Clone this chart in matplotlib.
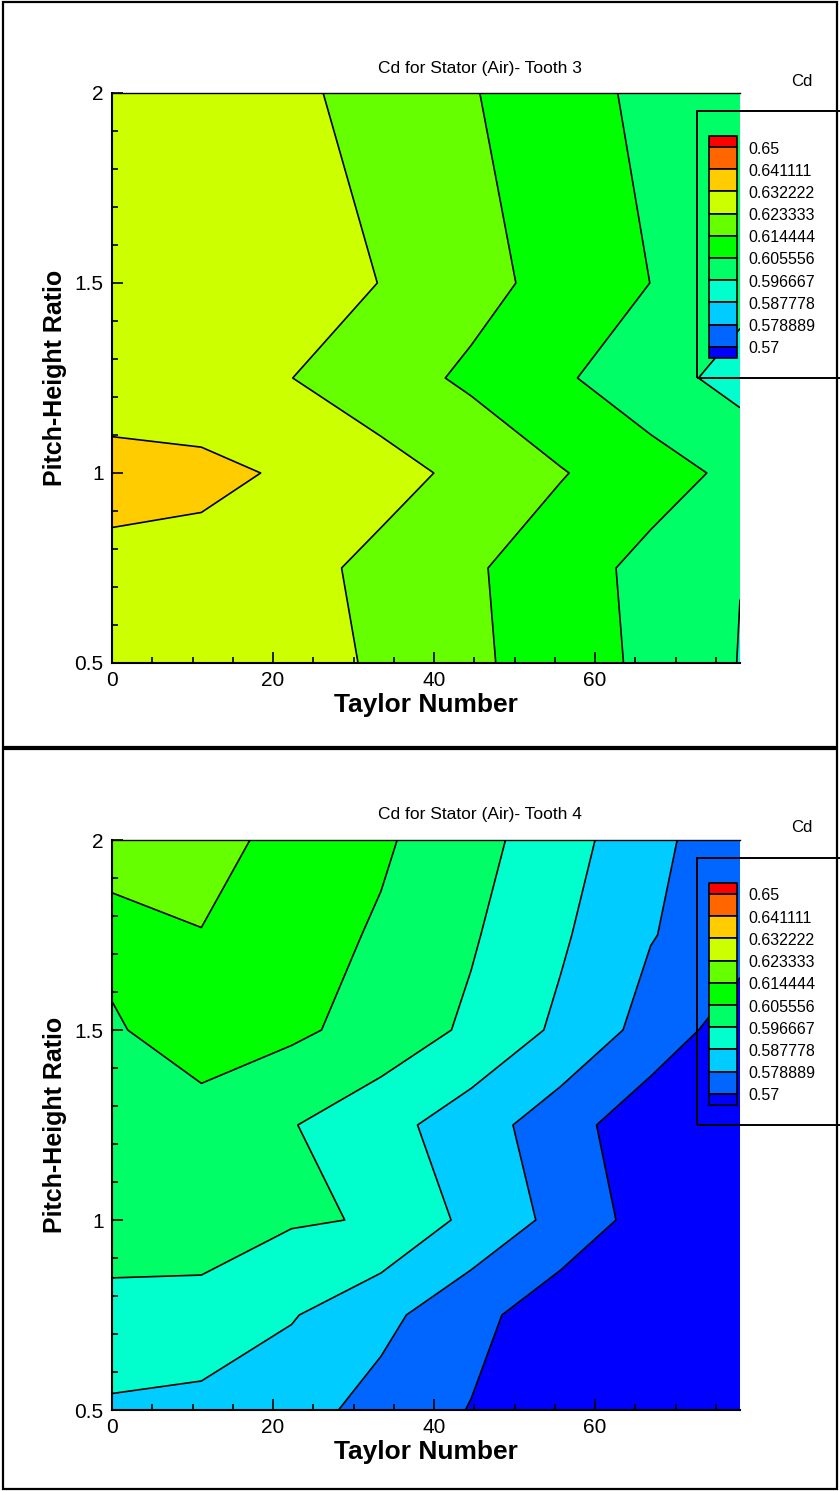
import matplotlib
matplotlib.use('Agg')
import matplotlib.pyplot as plt
from matplotlib.patches import Rectangle
from matplotlib.ticker import MultipleLocator

plt.rcParams['font.family'] = ['Liberation Sans', 'DejaVu Sans']

# ── 1. Data ──────────────────────────────────────────
TAYLOR = [0.0, 11.1, 22.3, 33.4, 44.6, 55.7, 66.9, 78.0]

PITCH_T3 = [0.5, 0.75, 1.0, 1.25, 1.5, 2.0]
CD_T3 = [
    [0.6295, 0.6290, 0.6275, 0.6219, 0.6161, 0.6101, 0.6036, 0.5964],
    [0.6312, 0.6300, 0.6263, 0.6210, 0.6156, 0.6095, 0.6031, 0.5968],
    [0.6336, 0.6338, 0.6314, 0.6265, 0.6211, 0.6150, 0.6092, 0.6034],
    [0.6300, 0.6280, 0.6234, 0.6183, 0.6129, 0.6068, 0.6002, 0.5936],
    [0.6290, 0.6280, 0.6265, 0.6232, 0.6174, 0.6115, 0.6055, 0.5995],
    [0.6295, 0.6275, 0.6251, 0.6201, 0.6150, 0.6093, 0.6034, 0.5978],
]

PITCH_T4 = [0.5, 0.75, 1.0, 1.25, 1.5, 1.75, 2.0]
CD_T4 = [
    [0.5862, 0.5843, 0.5822, 0.5759, 0.5696, 0.5620, 0.5540, 0.5480],
    [0.5953, 0.5957, 0.5884, 0.5812, 0.5730, 0.5643, 0.5560, 0.5500],
    [0.5988, 0.5980, 0.5975, 0.5961, 0.5854, 0.5764, 0.5660, 0.5590],
    [0.6017, 0.6017, 0.5971, 0.5909, 0.5832, 0.5740, 0.5640, 0.5580],
    [0.6045, 0.6105, 0.6072, 0.6023, 0.5951, 0.5861, 0.5757, 0.5651],
    [0.6080, 0.6142, 0.6094, 0.6045, 0.5976, 0.5890, 0.5793, 0.5740],
    [0.6225, 0.6173, 0.6120, 0.6068, 0.5999, 0.5915, 0.5818, 0.5720],
]

# contour levels (legend values) and band colours, low -> high
LEVELS = [0.57, 0.578889, 0.587778, 0.596667, 0.605556,
          0.614444, 0.623333, 0.632222, 0.641111, 0.65]
BAND_COLORS = ['#0000ff', '#0066ff', '#00ccff', '#00ffcc', '#00ff66', '#00ff00',
               '#66ff00', '#ccff00', '#ffcc00', '#ff6600', '#ff0000']

X_TICKS = [0, 20, 40, 60]
Y_TICKS = [0.5, 1, 1.5, 2]

W, H = 840, 1491

def fx(px):
    return px / W

def fy(py):
    return 1 - py / H

fig = plt.figure(figsize=(W / 100, H / 100), dpi=100)

# ── 2. Panel helper ──────────────────────────────────
def draw_panel(top, pitch, cd, title):
    # outer frame of the panel
    y0 = top - 91
    y1 = top + 654 if top < 500 else 1489
    fig.add_artist(Rectangle((fx(3), fy(y1)), fx(834), (y1 - y0) / H,
                             transform=fig.transFigure, fill=False,
                             edgecolor='black', linewidth=1.6))

    ax = fig.add_axes([fx(112), fy(top + 570), 628 / W, 570 / H])
    ax.contourf(TAYLOR, pitch, cd, levels=[0.5] + LEVELS + [0.7],
                colors=BAND_COLORS)
    ax.contour(TAYLOR, pitch, cd, levels=LEVELS, colors='k', linewidths=1.2)
    ax.set_xlim(0, 78)
    ax.set_ylim(0.5, 2)

    ax.set_xticks(X_TICKS)
    ax.set_xticklabels([str(t) for t in X_TICKS])
    ax.set_yticks(Y_TICKS)
    ax.set_yticklabels([f'{t:g}' for t in Y_TICKS])
    ax.xaxis.set_minor_locator(MultipleLocator(5))
    ax.yaxis.set_minor_locator(MultipleLocator(0.1))
    ax.tick_params(which='both', direction='in', top=False, right=False,
                   labelsize=15, pad=6, width=1.2)
    ax.tick_params(which='major', length=8)
    ax.tick_params(which='minor', length=4.5)
    ax.spines['right'].set_visible(False)
    ax.spines['top'].set_linewidth(1.0)
    ax.spines['left'].set_linewidth(1.5)
    ax.spines['bottom'].set_linewidth(1.5)

    fig.text(fx(480), fy(top - 25), title, ha='center', va='center', fontsize=12.5)
    fig.text(fx(426), fy(top + 612), 'Taylor Number', ha='center', va='center',
             fontsize=19, fontweight='bold')
    fig.text(fx(55), fy(top + 285), 'Pitch-Height Ratio', ha='center',
             va='center', rotation=90, fontsize=18, fontweight='bold')

    # legend box (Tecplot style)
    fig.text(fx(802), fy(top - 12), 'Cd', ha='center', va='center', fontsize=12)
    fig.add_artist(Rectangle((fx(697), fy(top + 285)), fx(170), 267 / H,
                             transform=fig.transFigure, fill=False,
                             edgecolor='black', linewidth=1.4, clip_on=True))
    step = 22.2
    bounds = [top + 54 + step * k for k in range(len(LEVELS))]
    # top cap (above highest level) and bottom cap (below lowest level)
    edges = [bounds[0] - 11] + bounds + [bounds[-1] + 11]
    for k in range(len(edges) - 1):
        color = BAND_COLORS[len(BAND_COLORS) - 1 - k]
        fig.add_artist(Rectangle((fx(709), fy(edges[k + 1])), fx(28),
                                 (edges[k + 1] - edges[k]) / H,
                                 transform=fig.transFigure, facecolor=color,
                                 edgecolor='black', linewidth=1.2))
    for b, lev in zip(bounds, LEVELS[::-1]):
        fig.text(fx(748), fy(b + 2), f'{lev:g}', ha='left', va='center',
                 fontsize=11.5)
    return ax

# ── 3. Draw both teeth ───────────────────────────────
draw_panel(93, PITCH_T3, CD_T3, 'Cd for Stator (Air)- Tooth 3')
draw_panel(840, PITCH_T4, CD_T4, 'Cd for Stator (Air)- Tooth 4')

fig.savefig('out.png', dpi=100)
